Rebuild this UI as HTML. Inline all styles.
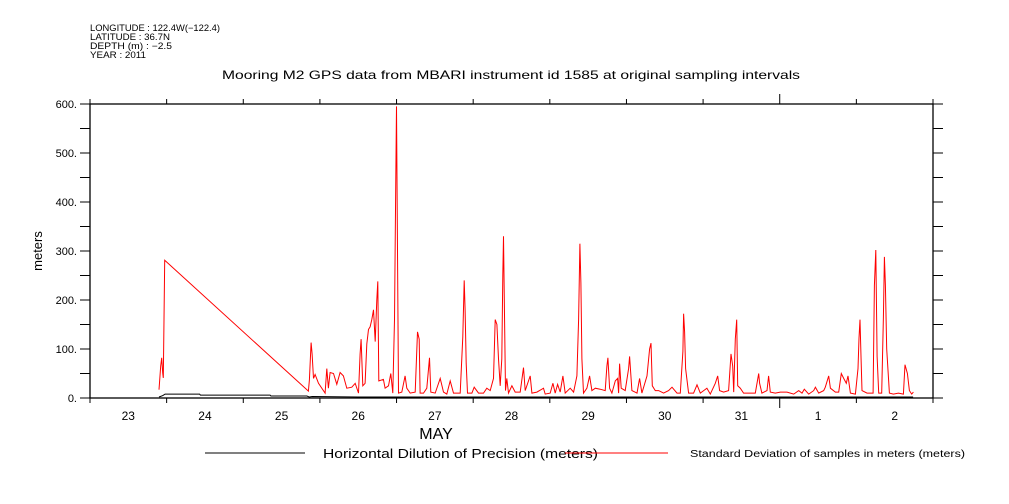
<!DOCTYPE html>
<html><head><meta charset="utf-8"><style>
body{margin:0;background:#fff;}
svg{display:block;font-family:"Liberation Sans",sans-serif;}
</style></head><body>
<svg id="chart" width="1009" height="504" viewBox="0 0 1009 504" xmlns="http://www.w3.org/2000/svg">
<rect width="1009" height="504" fill="#fff"/>
<g font-size="9" fill="#000">
<text x="90" y="31" textLength="130" lengthAdjust="spacingAndGlyphs">LONGITUDE : 122.4W(−122.4)</text>
<text x="90" y="40" textLength="80" lengthAdjust="spacingAndGlyphs">LATITUDE : 36.7N</text>
<text x="90" y="49" textLength="82" lengthAdjust="spacingAndGlyphs">DEPTH (m) : −2.5</text>
<text x="90" y="58" textLength="56" lengthAdjust="spacingAndGlyphs">YEAR : 2011</text>
</g>
<text x="222" y="79" font-size="12" textLength="578" lengthAdjust="spacingAndGlyphs">Mooring M2 GPS data from MBARI instrument id 1585 at original sampling intervals</text>
<text x="0" y="0" font-size="13" text-anchor="middle" transform="translate(42,251) rotate(-90)">meters</text>
<text x="436" y="439" font-size="16" text-anchor="middle">MAY</text>
<g id="axes"></g>
<g id="series"></g>
<g>
<line x1="205" y1="453" x2="305" y2="453" stroke="#000" stroke-width="1"/>
<text x="323" y="458" font-size="13" textLength="275" lengthAdjust="spacingAndGlyphs">Horizontal Dilution of Precision (meters)</text>
<line x1="565" y1="453" x2="668" y2="453" stroke="#f00" stroke-width="1"/>
<text x="690" y="457" font-size="10" textLength="275" lengthAdjust="spacingAndGlyphs">Standard Deviation of samples in meters (meters)</text>
</g>
</svg>
<script>
// days since May 23 00:00
const xTickLabels = ["23","24","25","26","27","28","29","30","31","1","2"];
const yTickValues = [0,100,200,300,400,500,600];
const redDays = [0.90,0.923,0.936,0.949,0.957,0.966,0.975,2.850,2.863,2.885,2.898,2.916,2.937,2.981,3.068,3.090,3.111,3.133,3.177,3.220,3.264,3.307,3.351,3.416,3.460,3.503,3.525,3.538,3.560,3.590,3.612,3.634,3.655,3.677,3.699,3.721,3.742,3.755,3.768,3.829,3.851,3.895,3.925,3.951,3.973,3.990,3.999,4.012,4.025,4.069,4.112,4.134,4.178,4.243,4.273,4.295,4.308,4.352,4.395,4.430,4.447,4.504,4.569,4.613,4.656,4.700,4.743,4.787,4.830,4.865,4.883,4.895,4.909,4.926,4.983,5.013,5.070,5.135,5.178,5.222,
5.265,5.287,5.309,5.331,5.352,5.374,5.387,5.396,5.409,5.422,5.439,5.461,5.505,5.548,5.614,5.657,5.679,5.744,5.766,5.831,5.918,5.940,6.005,6.040,6.070,6.101,6.136,6.171,6.201,6.266,6.310,6.353,6.375,6.393,6.406,6.419,6.440,6.484,6.519,6.549,6.593,6.658,6.723,6.745,6.758,6.780,6.810,6.854,6.884,6.897,6.910,6.932,6.984,7.028,7.041,7.071,7.137,7.172,7.202,7.268,7.302,7.320,7.337,7.376,7.420,7.485,7.550,7.594,7.659,7.702,7.737,7.746,7.759,7.772,7.811,7.876,7.920,7.963,8.050,8.094,8.159,8.190,8.216,8.268,8.333,8.364,8.386,8.399,8.420,8.438,8.451,8.486,8.529,8.616,8.681,8.725,8.738,8.768,8.834,8.855,8.877,8.942,9.008,9.095,9.182,9.247,9.291,9.321,9.378,9.443,9.465,9.508,9.574,9.595,9.639,9.661,9.726,9.769,9.804,9.835,9.869,9.891,9.922,9.987,10.022,10.035,10.048,10.061,10.074,10.139,10.183,10.218,10.235,10.253,10.270,10.292,10.331,10.353,10.366,10.379,10.396,10.431,10.483,10.548,10.614,10.635,10.666,10.692,10.722,10.744];
const redValues = [17,65,82,51,41,160,281,14,37,113,90,40,48,30,10,60,20,52,50,28,52,45,20,22,30,10,90,120,25,30,110,140,145,160,180,115,200,238,35,38,20,25,50,10,160,450,595,300,10,12,45,20,10,12,135,120,10,10,20,82,12,10,40,12,8,35,10,10,10,125,240,180,70,10,10,22,10,10,20,15,
40,160,150,80,25,80,250,330,170,15,40,10,25,12,12,62,15,45,10,12,20,8,10,30,10,28,12,45,10,20,12,45,160,315,235,80,10,20,45,15,20,18,15,65,82,20,10,35,40,10,70,20,15,60,85,15,10,40,10,45,100,112,25,15,15,10,15,22,10,10,95,172,135,60,10,10,27,10,20,8,30,45,15,12,15,90,65,12,120,160,25,20,10,10,10,50,30,10,15,45,12,10,12,12,8,15,10,18,8,15,22,10,15,22,45,20,12,12,50,40,30,45,10,8,60,122,160,85,15,10,10,10,230,302,85,10,10,165,288,230,100,10,8,10,8,68,50,15,8,12];
const blackDays = [0.90,0.95,0.98,1.43,1.44,2.35,2.36,2.83,2.86,2.90,3.50,4.00,5.00,6.00,7.00,8.00,9.00,10.00,10.74];
const blackValues = [2,5,8,8,6,6,4,4,2,3,2,2,2,2,2,2,2,2,2];

const NS="http://www.w3.org/2000/svg";
const L=90,R=933,T=104,B=398,DAYS=11,YMAX=600;
const xs=d=>L+(R-L)*d/DAYS;
const ys=v=>B-(B-T)*v/YMAX;
function mk(tag,attrs,parent){const e=document.createElementNS(NS,tag);for(const k in attrs)e.setAttribute(k,attrs[k]);parent.appendChild(e);return e;}
const ax=document.getElementById('axes');
const frame=mk('rect',{x:L,y:T,width:R-L,height:B-T,fill:'none',stroke:'#000','stroke-width':1.3},ax);


for(let v=0;v<=YMAX;v+=50){
  const y=ys(v);
  const t=mk('line',{x1:L-10,y1:y,x2:L,y2:y,stroke:'#000'},ax);
  
  
  const t2=mk('line',{x1:R,y1:y,x2:R+10,y2:y,stroke:'#000'},ax);
  
  
}
yTickValues.forEach(v=>{
  const tx=mk('text',{x:L-13,y:ys(v)+4,'font-size':11,'text-anchor':'end'},ax);
  tx.textContent=v+'.';
  
  
});
for(let d=0;d<=DAYS;d++){
  const x=xs(d);const long=(d===9);
  const a=mk('line',{x1:x,y1:T-(long?10:5),x2:x,y2:T,stroke:'#000'},ax);
  
  
  const b=mk('line',{x1:x,y1:B,x2:x,y2:B+(long?10:5),stroke:'#000'},ax);
  
  
}
xTickLabels.forEach((s,i)=>{
  const tx=mk('text',{x:xs(i+0.5),y:420,'font-size':12,'text-anchor':'middle'},ax);
  tx.textContent=s;
  
  
});
const sg=document.getElementById('series');
function line(days,vals,color,name){
  const pts=days.map((d,i)=>xs(d).toFixed(1)+','+ys(vals[i]).toFixed(1)).join(' ');
  const p=mk('polyline',{points:pts,fill:'none',stroke:color,'stroke-width':1},sg);
  
  
}
line(redDays,redValues,'#f00','stddev-series');
line(blackDays,blackValues,'#000','hdop-series');
</script>
</body></html>
